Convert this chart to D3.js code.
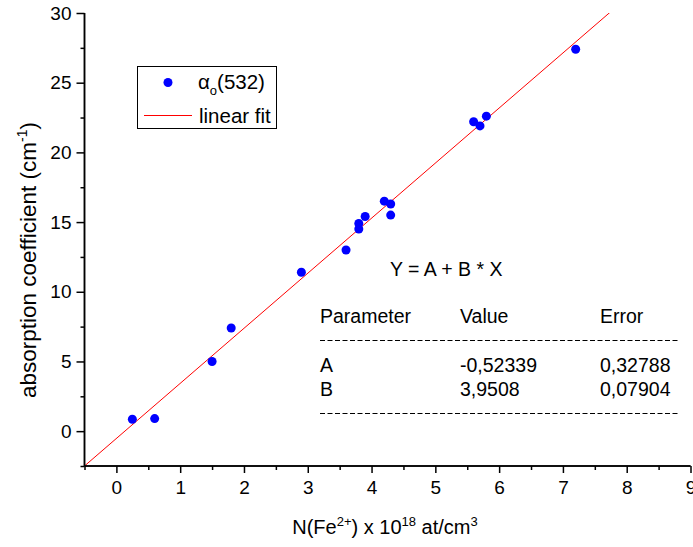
<!DOCTYPE html>
<html><head><meta charset="utf-8">
<script src="https://cdn.jsdelivr.net/npm/d3@7"></script>
<style>
body{margin:0;background:#fff;}
text{font-family:"Liberation Sans",Arial,sans-serif;fill:#000;}
</style></head>
<body>
<svg id="chart" width="693" height="547"></svg>
<script>
// Data
const concentrations = [0.25, 0.6, 1.5, 1.8, 2.9, 3.6, 3.8, 3.8, 3.9, 4.2, 4.3, 4.3, 5.6, 5.7, 5.8, 7.2];
const absorption     = [0.85, 0.9, 5.0, 7.4, 11.4, 13.0, 14.5, 14.9, 15.4, 16.5, 16.3, 15.5, 22.2, 21.9, 22.6, 27.4];
const fitParamNames  = ["A", "B"];
const fitValues      = [-0.52339, 3.9508];
const fitErrors      = [0.32788, 0.07904];
const fitValueLabels = ["-0,52339", "3,9508"];
const fitErrorLabels = ["0,32788", "0,07904"];
const xTicks = [0,1,2,3,4,5,6,7,8,9];
const yTicks = [0,5,10,15,20,25,30];
const xMinor = [-0.5,0.5,1.5,2.5,3.5,4.5,5.5,6.5,7.5,8.5];
const yMinor = [-2.5,2.5,7.5,12.5,17.5,22.5,27.5];

const svg = d3.select("#chart");
const x = d3.scaleLinear().domain([-0.5, 9]).range([84.5, 690.5]);
const y = d3.scaleLinear().domain([-2.5, 30]).range([466, 13]);

// clip
svg.append("defs").append("clipPath").attr("id","clip")
  .append("rect").attr("x",84.5).attr("y",13).attr("width",606).attr("height",453);

// fit line
const A = fitValues[0], B = fitValues[1];
svg.append("line").attr("clip-path","url(#clip)")
  .attr("x1", x(-0.5)).attr("y1", y(A + B*(-0.5)))
  .attr("x2", x(9)).attr("y2", y(A + B*9))
  .attr("stroke","#ff0000").attr("stroke-width",1);

// points
svg.append("g").selectAll("circle").data(concentrations).join("circle")
  .attr("cx", d=>x(d)).attr("cy", (d,i)=>y(absorption[i])).attr("r",4.5)
  .attr("fill","#0000ff");

// axes
const fs = "19px";
const gx = svg.append("g").attr("transform","translate(0,466)");
gx.call(d3.axisBottom(x).tickValues(xTicks).tickSize(7).tickPadding(8).tickFormat(d3.format("d")));
gx.append("g").call(d3.axisBottom(x).tickValues(xMinor).tickSize(4).tickFormat(""));
gx.selectAll(".domain").attr("stroke-width",1.5).attr("d","M84.5,0H690.5");
gx.selectAll("line").attr("stroke-width",1.5);
gx.selectAll("text").style("font-size",fs).attr("fill","#000");

const gy = svg.append("g").attr("transform","translate(84.5,0)");
gy.call(d3.axisLeft(y).tickValues(yTicks).tickSize(8).tickPadding(5).tickFormat(d3.format("d")));
gy.append("g").call(d3.axisLeft(y).tickValues(yMinor).tickSize(4).tickFormat(""));
gy.selectAll(".domain").attr("stroke-width",1.5).attr("d","M0,13V466");
gy.selectAll("line").attr("stroke-width",1.5);
gy.selectAll("text").style("font-size",fs).attr("fill","#000");
svg.selectAll(".domain").attr("stroke","#000");

// axis titles
const xt = svg.append("text").attr("x",385).attr("y",534).attr("text-anchor","middle").style("font-size","20px");
xt.append("tspan").text("N(Fe");
xt.append("tspan").text("2+").attr("dy",-8).style("font-size","13px");
xt.append("tspan").text(") x 10").attr("dy",8);
xt.append("tspan").text("18").attr("dy",-8).style("font-size","13px");
xt.append("tspan").text(" at/cm").attr("dy",8);
xt.append("tspan").text("3").attr("dy",-8).style("font-size","13px");

const yt = svg.append("text").attr("transform","translate(36,398) rotate(-90)").attr("text-anchor","start").style("font-size","22.5px");
yt.append("tspan").text("absorption coefficient (cm");
yt.append("tspan").text("-1").attr("dy",-9).style("font-size","14px");
yt.append("tspan").text(")").attr("dy",9);

// legend
svg.append("rect").attr("x",137.5).attr("y",66.5).attr("width",139).attr("height",62)
  .attr("fill","#fff").attr("stroke","#000").attr("stroke-width",1);
svg.append("circle").attr("cx",168).attr("cy",82.5).attr("r",4.5).attr("fill","#0000ff");
svg.append("line").attr("x1",144).attr("x2",192).attr("y1",115.5).attr("y2",115.5).attr("stroke","#ff0000").attr("stroke-width",1);
const l1 = svg.append("text").attr("x",198).attr("y",89).style("font-size","20.5px");
l1.append("tspan").text("α");
l1.append("tspan").text("o").attr("dy",6).style("font-size","13px");
l1.append("tspan").text("(532)").attr("dy",-6);
svg.append("text").attr("x",199).attr("y",122.5).style("font-size","20.5px").text("linear fit");

// fit table
const tfs = "19.5px";
svg.append("text").attr("x",390).attr("y",276).style("font-size",tfs).text("Y = A + B * X");
const cols = [320, 460, 600];
["Parameter","Value","Error"].forEach((t,i)=>svg.append("text").attr("x",cols[i]).attr("y",323).style("font-size",tfs).text(t));
[340.5, 413.5].forEach(yy=>svg.append("line").attr("x1",320).attr("x2",680).attr("y1",yy).attr("y2",yy)
  .attr("stroke","#000").attr("stroke-width",1).attr("stroke-dasharray","5,2.5"));
fitParamNames.forEach((p,i)=>{
  const yy = 372 + i*24;
  svg.append("text").attr("x",cols[0]).attr("y",yy).style("font-size",tfs).text(p);
  svg.append("text").attr("x",cols[1]).attr("y",yy).style("font-size",tfs).text(fitValueLabels[i]);
  svg.append("text").attr("x",cols[2]).attr("y",yy).style("font-size",tfs).text(fitErrorLabels[i]);
});
</script>
</body></html>
